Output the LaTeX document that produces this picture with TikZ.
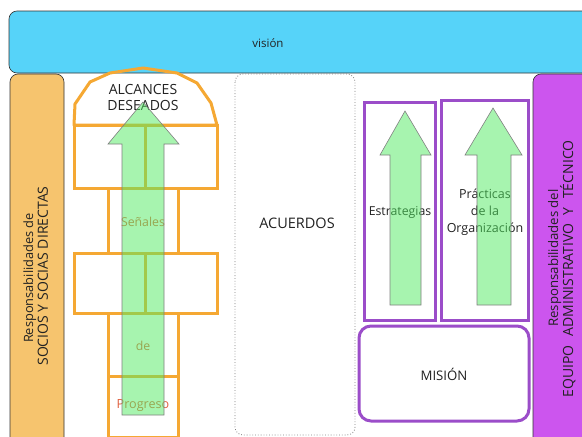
\documentclass[tikz,border=0pt]{standalone}
\usepackage{fontspec}
\setmainfont{Open Sans}
\definecolor{visblue}{HTML}{56D3F9}
\definecolor{leftorange}{HTML}{F6C46E}
\definecolor{rightpurple}{HTML}{CC55EE}
\definecolor{hoporange}{HTML}{F5A833}
\definecolor{purpline}{HTML}{9B4DC9}
\definecolor{arrowgreen}{HTML}{51EB61}
\definecolor{progred}{HTML}{E0603F}
\definecolor{txt}{HTML}{222222}
\newcommand{\fs}[2]{\fontsize{#1}{#2}\selectfont}
\begin{document}
\begin{tikzpicture}[x=1pt,y=-1pt,font=\fs{13}{16},text=txt,
  hop/.style={draw=hoporange,line width=3pt},
  purp/.style={draw=purpline,line width=3pt},
  garrow/.style={fill=arrowgreen,fill opacity=0.5,draw=gray,line width=0.6pt},
  sidebar/.style={draw=black!80,line width=0.6pt,rounded corners=8pt},
  hoptext/.style={text=progred,font=\fs{12.3}{14}},
  rot/.style={rotate=90,anchor=base,inner sep=0pt}]
\useasboundingbox (0,0) rectangle (582,437);
\fill[white] (0,0) rectangle (582,437);
% vision bar
\draw[fill=visblue,sidebar] (9,11) rectangle (620,73);
\node[font=\fs{11.5}{13}] (vision) at (268,43) {visión};
% left bar
\draw[fill=leftorange,sidebar] (10,74) rectangle (64,460);
\node[rot,font=\fs{12.8}{14}] (resp1a) at (33,278) {Responsabilidades de};
\node[rot,font=\fs{14}{16}] (resp1b) at (48,276) {SOCIOS Y SOCIAS DIRECTAS};
% right bar
\draw[fill=rightpurple,sidebar] (533,74) rectangle (620,460);
\node[rot,font=\fs{13.2}{14}] (resp2a) at (558,258) {Responsabilidades del};
\node[rot,font=\fs{14}{16}] (resp2b) at (573,269)
  {EQUIPO\hspace{9pt}ADMINISTRATIVO\hspace{8pt}Y\hspace{9pt}TÉCNICO};
% hopscotch
\draw[hop] (108,188) rectangle (178,253);
\draw[hop] (108,313) rectangle (178,376);
\draw[hop] (108,376) rectangle (178,437);
\draw[hop] (74,125) rectangle (217,188);
\draw[hop] (74,253) rectangle (217,313);
\draw[hop] (145,125) -- (145,188);
\draw[hop] (145,253) -- (145,313);
\draw[hop,line join=round] (74,125) -- (75,104) -- (90,82) -- (110,73) -- (143,68)
  -- (177,73) -- (197,83) -- (211,103) -- (217,125) -- cycle;
\node[align=center,font=\fs{14}{16}] (alc) at (143,97) {ALCANCES\\DESEADOS};
\node[hoptext] (senales) at (143,222) {Señales};
\node[hoptext] (de) at (143,346) {de};
\node[hoptext,font=\fs{12.6}{14}] (prog) at (143,406) {Progreso};
\path[garrow] (122,415) -- (122,144) -- (108,144) -- (143,102) -- (179,144)
  -- (164,144) -- (164,415) -- cycle;
% acuerdos
\draw[gray,dotted,line width=0.8pt,rounded corners=8pt] (235,74) rectangle (355,435);
\node[font=\fs{14.5}{16}] (acuerdos) at (297,223) {ACUERDOS};
% purple boxes
\draw[purp] (364,102) rectangle (435,320);
\draw[purp] (441,100) rectangle (528,320);
\node[font=\fs{12.3}{14}] (estr) at (400,212) {Estrategias};
\node[align=center,font=\fs{12.5}{17}] (prac) at (485,212) {Prácticas\\de la\\Organización};
\path[garrow] (390,305) -- (390,155) -- (380,155) -- (405,111) -- (431,155)
  -- (421,155) -- (421,305) -- cycle;
\path[garrow] (477,305) -- (477,155) -- (465,155) -- (493,108) -- (522,155)
  -- (511,155) -- (511,305) -- cycle;
\draw[purp,rounded corners=12pt] (359,326) rectangle (529,421);
\node[font=\fs{13.2}{15}] (mision) at (444,374) {MISIÓN};
\end{tikzpicture}
\end{document}
